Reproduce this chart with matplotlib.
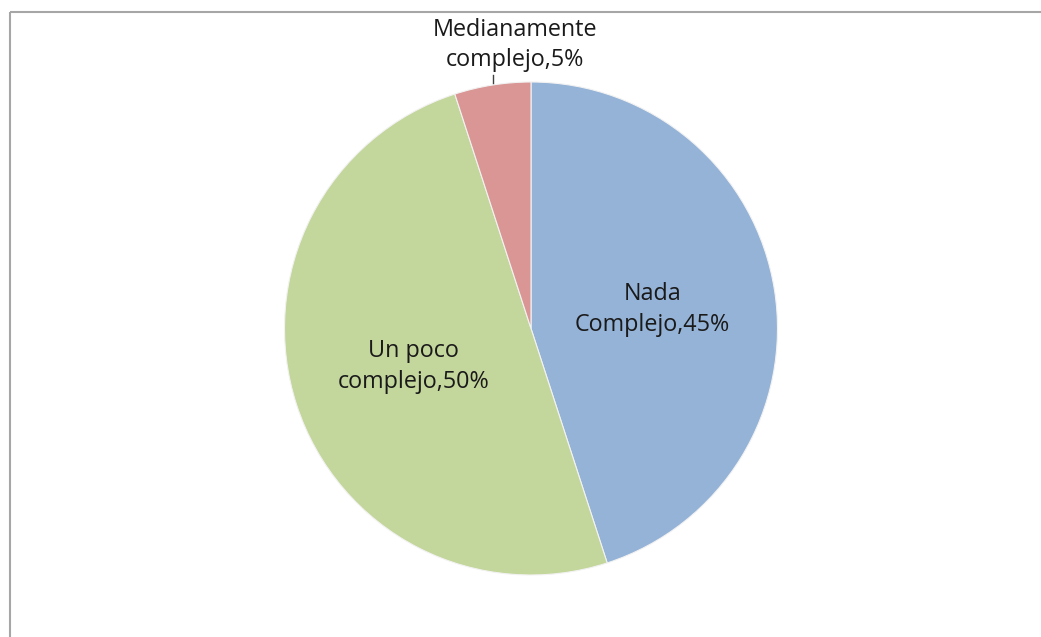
import matplotlib.pyplot as plt
import numpy as np

categorias = ['Nada\nComplejo', 'Un poco\ncomplejo', 'Medianamente\ncomplejo']
porcentajes = [45, 50, 5]
colores = ['#95B3D7', '#C3D69B', '#D99694']

W, H = 1041, 637
fig = plt.figure(figsize=(W / 100, H / 100), dpi=100)
ax = fig.add_axes([0, 0, 1, 1])

cx, cy, r = 531, H - 328.5, 246.5
wedges, _ = ax.pie(porcentajes, colors=colores, startangle=90, counterclock=False,
                   center=(cx, cy), radius=r, frame=True,
                   wedgeprops=dict(edgecolor='#f2f2f2', linewidth=0.8))
ax.set_xlim(0, W)
ax.set_ylim(0, H)
ax.axis('off')

font = dict(family='Open Sans', fontsize=16.8, color='#1a1a1a', linespacing=1.38)
for w, cat, p in zip(wedges, categorias, porcentajes):
    ang = np.deg2rad((w.theta1 + w.theta2) / 2)
    if p >= 10:
        x = cx + 0.5 * r * np.cos(ang)
        y = cy + 0.5 * r * np.sin(ang)
        ax.text(x, y, f'{cat},{p}%', ha='center', va='center', **font)
    else:
        # etiqueta fuera con linea guia
        ax.text(515, H - 45, f'{cat},{p}%', ha='center', va='center', **font)
        ax.plot([493, 493], [H - 75, H - 83], color='#404040', lw=1)

# borde del grafico
ax.plot([10, 10], [0, H - 12], color='#a6a6a6', lw=1.5, solid_capstyle='butt')
ax.plot([10, W], [H - 12, H - 12], color='#a6a6a6', lw=1.5, solid_capstyle='butt')

fig.savefig('out.png', dpi=100, facecolor='white')
